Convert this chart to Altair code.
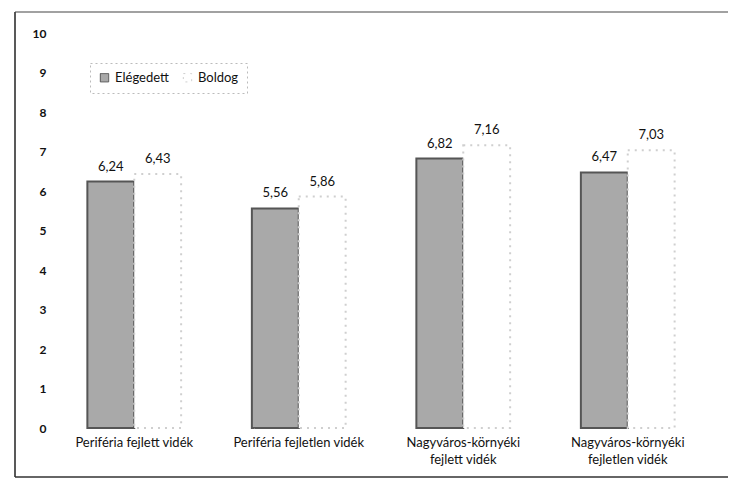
import altair as alt
import pandas as pd

categories = ["Periféria fejlett vidék", "Periféria fejletlen vidék",
              "Nagyváros-környéki fejlett vidék", "Nagyváros-környéki fejletlen vidék"]
series = ["Elégedett", "Boldog"]
elegedett = [6.24, 5.56, 6.82, 6.47]
boldog = [6.43, 5.86, 7.16, 7.03]
y_ticks = [0, 1, 2, 3, 4, 5, 6, 7, 8, 9, 10]

rows = []
for c, e, b in zip(categories, elegedett, boldog):
    rows.append({"cat": c, "series": "Elégedett", "v": e})
    rows.append({"cat": c, "series": "Boldog", "v": b})
df = pd.DataFrame(rows)

FONT = "Lato"
W, H = 658, 395

label_expr = ("datum.value == 'Nagyváros-környéki fejlett vidék' ? ['Nagyváros-környéki', 'fejlett vidék'] : "
              "datum.value == 'Nagyváros-környéki fejletlen vidék' ? ['Nagyváros-környéki', 'fejletlen vidék'] : datum.value")

x_axis = alt.Axis(labelAngle=0, domain=False, ticks=False, labelPadding=8,
                  labelFontSize=13, labelColor="#111", labelFont=FONT,
                  labelExpr=label_expr, labelLineHeight=17, labelBaseline="top")
y_axis = alt.Axis(values=y_ticks, domain=False, ticks=False, grid=False,
                  labelOverlap=False,
                  labelPadding=6, labelFontSize=12, labelFontWeight="bold",
                  labelColor="#111", labelFont=FONT)
x_scale = alt.Scale(paddingInner=0.43, paddingOuter=0.215)
y_scale = alt.Scale(domain=[0, 10], nice=False)

x_enc = alt.X("cat:N", sort=categories, title=None, scale=x_scale, axis=x_axis)
y_enc = alt.Y("v:Q", title=None, scale=y_scale, axis=y_axis)
xoff = alt.XOffset("series:N", sort=series, scale=alt.Scale(paddingInner=0, paddingOuter=0))

base = alt.Chart(df)

bars = base.mark_bar(strokeWidth=2).encode(
    x=x_enc, y=y_enc, xOffset=xoff,
    fill=alt.Fill("series:N", sort=series,
                  scale=alt.Scale(domain=series, range=["#a9a9a9", "#ffffff"]),
                  legend=alt.Legend(title=None, orient="none", legendX=38, legendY=30,
                                    direction="horizontal", symbolType="square", symbolSize=70,
                                    labelFontSize=13, labelFont=FONT, labelColor="#111",
                                    strokeColor="#bbb", padding=8,
                                    columnPadding=12, symbolStrokeWidth=1)),
    stroke=alt.Stroke("series:N", sort=series,
                      scale=alt.Scale(domain=series, range=["#555555", "#cfcfcf"]), legend=None),
    strokeDash=alt.StrokeDash("series:N", sort=series,
                              scale=alt.Scale(domain=series, range=[[1, 0], [2, 5]]), legend=None),
)

text = base.transform_calculate(
    lbl="replace(format(datum.v, '.2f'), '.', ',')"
).mark_text(dy=-8, fontSize=13, font=FONT, color="#111", baseline="bottom").encode(
    x=x_enc, y=y_enc, xOffset=xoff, text="lbl:N"
)

frame_data = alt.Data(values=[{"a": 1}])
left = alt.Chart(frame_data).mark_rule(color="#222", strokeWidth=1.5).encode(
    x=alt.value(-37), y=alt.value(-21), y2=alt.value(444))
top = alt.Chart(frame_data).mark_rule(color="#444", strokeWidth=1.2).encode(
    x=alt.value(-37), x2=alt.value(676), y=alt.value(-21))
bottom = alt.Chart(frame_data).mark_rule(color="#333", strokeWidth=1.5).encode(
    x=alt.value(-37), x2=alt.value(676), y=alt.value(444))

chart = alt.layer(bars, text, left, top, bottom).properties(
    width=W, height=H,
    background="white",
    autosize=alt.AutoSizeParams(type="none"),
    padding={"left": 44, "top": 25, "right": 18, "bottom": 52},
).configure_view(stroke=None).configure_legend(strokeDash=[2, 3])

chart.save("out.html", embed_options={"renderer": "svg", "actions": False})
